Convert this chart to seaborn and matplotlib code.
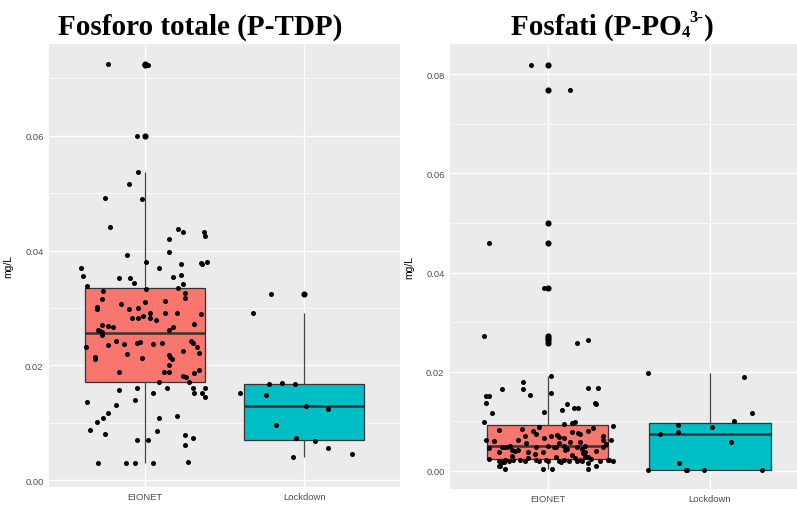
import matplotlib
matplotlib.use("Agg")
import numpy as np
import pandas as pd
import matplotlib.pyplot as plt
from matplotlib.ticker import MultipleLocator, FormatStrFormatter
import seaborn as sns

groups = ["EIONET", "Lockdown"]
palette = {"EIONET": "#F8766D", "Lockdown": "#00BFC4"}

# Total dissolved phosphorus, P-TDP (mg/L), and the horizontal jitter of each point
tdp_eionet = [
    0.0726, 0.0723, 0.0600,
    0.0537, 0.0516, 0.0491, 0.0490, 0.0442, 0.0437, 0.0433, 0.0433, 0.0426, 0.0420,
    0.0393, 0.0397, 0.0380, 0.0376, 0.0378, 0.0376, 0.0380, 0.0370, 0.0369, 0.0356,
    0.0352, 0.0352, 0.0343, 0.0354, 0.0358, 0.0342, 0.0335, 0.0338,
    0.0333, 0.0329, 0.0327, 0.0318, 0.0315, 0.0301, 0.0298, 0.0307, 0.0299, 0.0300,
    0.0311, 0.0313, 0.0292, 0.0287, 0.0291, 0.0292, 0.0290, 0.0282, 0.0282, 0.0282,
    0.0280, 0.0272, 0.0271, 0.0268, 0.0267, 0.0267, 0.0262, 0.0262, 0.0260, 0.0259, 0.0253,
    0.0233, 0.0236, 0.0242, 0.0238, 0.0239, 0.0241, 0.0238, 0.0239, 0.0226, 0.0242,
    0.0239, 0.0233, 0.0221, 0.0220, 0.0214, 0.0211, 0.0213, 0.0218, 0.0214, 0.0211,
    0.0200, 0.0189, 0.0189, 0.0188, 0.0192, 0.0187, 0.0182, 0.0180, 0.0172, 0.0172,
    0.0161, 0.0161, 0.0161, 0.0161, 0.0158, 0.0152, 0.0152, 0.0145, 0.0152, 0.0139,
    0.0136, 0.0132, 0.0117, 0.0109, 0.0101, 0.0088, 0.0109, 0.0112, 0.0081, 0.0085,
    0.0070, 0.0070, 0.0079, 0.0074, 0.0061, 0.0030, 0.0030, 0.0030, 0.0030, 0.0032,
]
tdp_eionet_jitter = [
    -0.23, 0.02, -0.05,
    -0.04, -0.10, -0.25, -0.02, -0.22, 0.21, 0.24, 0.37, 0.38, 0.15,
    -0.11, 0.15, 0.01, 0.23, 0.35, 0.36, 0.39, -0.40, 0.09, -0.39,
    -0.16, -0.09, -0.07, 0.18, 0.23, 0.24, 0.21, -0.36,
    0.01, -0.26, 0.25, 0.25, -0.27, -0.30, -0.30, -0.15, -0.10, -0.04,
    0.00, 0.13, 0.03, -0.01, 0.13, 0.20, 0.35, -0.08, -0.04, 0.03,
    0.07, 0.31, -0.27, -0.23, -0.20, 0.18, 0.15, -0.29, -0.28, -0.27, -0.27,
    -0.37, -0.23, -0.18, -0.13, -0.05, -0.03, 0.05, 0.11, 0.24, 0.29,
    0.30, 0.33, 0.34, -0.11, -0.31, -0.31, -0.02, 0.15, 0.16, 0.17,
    0.15, 0.12, 0.15, -0.16, 0.34, 0.31, 0.24, 0.26, 0.09, 0.28,
    -0.05, 0.14, 0.30, 0.38, -0.16, 0.31, 0.36, 0.38, 0.05, -0.06,
    -0.36, -0.18, -0.23, -0.26, -0.30, -0.34, 0.09, 0.20, -0.25, 0.08,
    -0.05, 0.02, 0.25, 0.30, 0.25, -0.29, -0.12, -0.06, 0.05, 0.27,
]
tdp_lockdown = [0.0325, 0.0291, 0.0152, 0.0149, 0.0167, 0.0170, 0.0168, 0.0130,
                0.0125, 0.0096, 0.0074, 0.0068, 0.0056, 0.0046, 0.0041]
tdp_lockdown_jitter = [-0.21, -0.32, -0.40, -0.24, -0.22, -0.14, -0.06, 0.01,
                       0.15, -0.18, -0.05, 0.07, 0.15, 0.30, -0.07]

# Phosphates, P-PO4 (mg/L), and the horizontal jitter of each point
po4_eionet = [
    0.0819, 0.0769, 0.0500, 0.0460, 0.0370, 0.0273, 0.0268, 0.0265, 0.0259,
    0.0191, 0.0179, 0.0165, 0.0165, 0.0154, 0.0157, 0.0167, 0.0167, 0.0151, 0.0151,
    0.0138, 0.0138, 0.0136, 0.0116, 0.0118, 0.0135, 0.0124, 0.0128, 0.0128, 0.0099,
    0.0097, 0.0098, 0.0095, 0.0091,
    0.0084, 0.0070, 0.0080, 0.0075, 0.0066, 0.0070, 0.0068, 0.0066, 0.0079, 0.0077,
    0.0075, 0.0080, 0.0070, 0.0063, 0.0063, 0.0060, 0.0051, 0.0049, 0.0049, 0.0048,
    0.0043, 0.0041, 0.0042, 0.0057, 0.0038, 0.0048, 0.0038, 0.0051, 0.0048, 0.0048,
    0.0056, 0.0051, 0.0059, 0.0043, 0.0048, 0.0044, 0.0051, 0.0036, 0.0038, 0.0058,
    0.0049, 0.0063, 0.0038,
    0.0088, 0.0086, 0.0082, 0.0072, 0.0062, 0.0055, 0.0046, 0.0045, 0.0040, 0.0035,
    0.0033, 0.0031, 0.0028, 0.0026,
    0.0024, 0.0021, 0.0019, 0.0019, 0.0022, 0.0020, 0.0010, 0.0010, 0.0005, 0.0022,
    0.0022, 0.0020, 0.0022, 0.0021, 0.0005, 0.0020, 0.0022, 0.0005, 0.0021, 0.0022,
    0.0020, 0.0027, 0.0021, 0.0022, 0.0020, 0.0029, 0.0029, 0.0029, 0.0016, 0.0005,
    0.0024, 0.0010, 0.0020, 0.0022, 0.0022, 0.0020, 0.0018,
]
po4_eionet_jitter = [
    -0.10, 0.14, 0.00, -0.36, -0.02, -0.39, 0.00, 0.25, 0.18,
    0.02, -0.15, -0.15, -0.28, -0.11, 0.02, 0.25, 0.31, -0.38, -0.36,
    -0.38, 0.29, 0.30, -0.34, -0.02, 0.12, 0.09, 0.16, 0.19, -0.39,
    0.15, 0.17, 0.10, 0.40,
    -0.16, -0.14, -0.09, -0.07, -0.02, 0.02, 0.07, 0.10, 0.15, 0.19,
    0.20, 0.25, 0.34, 0.34, -0.38, -0.33, -0.23, -0.25, -0.27, -0.28,
    -0.22, -0.20, -0.18, -0.13, -0.12, -0.07, -0.03, 0.00, 0.04, 0.05,
    0.07, 0.10, 0.14, 0.11, 0.18, 0.21, 0.23, 0.22, 0.23, 0.20,
    0.34, 0.39, -0.30,
    -0.05, 0.28, -0.30, 0.06, -0.18, 0.36, -0.36, 0.12, 0.30, -0.08,
    0.15, -0.22, 0.05, -0.12,
    -0.36, -0.30, -0.28, -0.27, -0.26, -0.24, -0.30, -0.29, -0.26, -0.21,
    -0.17, -0.14, -0.07, -0.05, -0.03, 0.00, -0.01, 0.03, 0.07, 0.10,
    0.13, 0.17, 0.18, 0.20, 0.21, 0.23, 0.24, 0.25, 0.25, 0.25,
    0.27, 0.30, 0.32, 0.37, 0.38, 0.40, 0.08,
]
po4_lockdown = [0.0197, 0.0189, 0.0116, 0.0100, 0.0088, 0.0093, 0.0075, 0.0078,
                0.0058, 0.0016, 0.0003, 0.0003, 0.0003, 0.0003, 0.0003]
po4_lockdown_jitter = [-0.38, 0.21, 0.26, 0.15, 0.01, -0.20, -0.31, -0.20,
                       0.13, -0.19, -0.38, -0.15, -0.14, -0.04, 0.32]


def make_frame(eionet, eionet_jit, lockdown, lockdown_jit):
    return pd.DataFrame({
        "group": ["EIONET"] * len(eionet) + ["Lockdown"] * len(lockdown),
        "value": list(eionet) + list(lockdown),
        "jitter": list(eionet_jit) + list(lockdown_jit),
    })


tdp = make_frame(tdp_eionet, tdp_eionet_jitter, tdp_lockdown, tdp_lockdown_jitter)
po4 = make_frame(po4_eionet, po4_eionet_jitter, po4_lockdown, po4_lockdown_jitter)

sns.set_theme(style="darkgrid", rc={
    "axes.facecolor": "#EBEBEB",
    "grid.color": "white",
    "axes.edgecolor": "#EBEBEB",
})
plt.rcParams["font.family"] = ["Liberation Sans", "DejaVu Sans"]

W, H = 797, 506
fig = plt.figure(figsize=(W / 100, H / 100), dpi=100)
fig.patch.set_facecolor("white")


def px_axes(x0, y0, x1, y1):
    return fig.add_axes([x0 / W, 1 - y1 / H, (x1 - x0) / W, (y1 - y0) / H])


ax1 = px_axes(49, 45, 400, 488)
ax2 = px_axes(450, 45, 797, 490)


def draw_panel(ax, df, ylim, xlim):
    sns.boxplot(
        data=df, x="group", y="value", hue="group", order=groups, hue_order=groups,
        palette=palette, saturation=1, width=0.75, linewidth=0.9, linecolor="#333333",
        showcaps=False, legend=False, ax=ax,
        flierprops=dict(marker="o", markerfacecolor="black", markeredgecolor="black",
                        markersize=3.4),
        medianprops=dict(color="#333333", linewidth=1.8),
        whiskerprops=dict(color="#444444", linewidth=0.9),
    )
    pos = df["group"].map({g: i for i, g in enumerate(groups)}).to_numpy() + df["jitter"].to_numpy()
    sns.scatterplot(x=pos, y=df["value"].to_numpy(), color="black", s=13,
                    linewidth=0, ax=ax, zorder=4)
    ax.set_xlim(*xlim)
    ax.set_ylim(*ylim)
    ax.set_xticks([0, 1], groups)
    ax.yaxis.set_major_locator(MultipleLocator(0.02))
    ax.yaxis.set_minor_locator(MultipleLocator(0.01))
    ax.yaxis.set_major_formatter(FormatStrFormatter("%.2f"))
    ax.grid(which="major", color="white", linewidth=1.0)
    ax.grid(which="minor", axis="y", color="white", linewidth=0.5)
    ax.set_axisbelow(True)
    for s in ax.spines.values():
        s.set_visible(False)
    ax.tick_params(which="major", length=2.3, width=0.7, color="#333333",
                   labelsize=6.8, labelcolor="#4D4D4D", pad=1.6)
    ax.tick_params(which="minor", length=0)
    ax.set_xlabel("")
    ax.set_ylabel("mg/L", fontsize=7.5, color="black")


draw_panel(ax1, tdp, (-0.00117, 0.0760), (-0.6, 1.6))
draw_panel(ax2, po4, (-0.00363, 0.0861), (-0.6, 1.535))
ax1.yaxis.set_label_coords((13 - 49) / 351, 0.5)
ax2.yaxis.set_label_coords((414 - 450) / 347, 0.5)

# Titles
title_font = dict(family=["Liberation Serif", "DejaVu Serif"], weight="bold", color="black")
TSIZE = 21
baseline = 1 - 35 / H
fig.text(200 / W, baseline, "Fosforo totale (P-TDP)", fontsize=TSIZE,
         ha="center", va="baseline", **title_font)

renderer = fig.canvas.get_renderer()
parts = [
    ("Fosfati (P-PO", TSIZE, 0),
    ("4", 12, -2),
    ("3-", 12, 13),
    (")", TSIZE, 0),
]
texts = []
widths = []
for s, size, dy in parts:
    t = fig.text(0, baseline + dy / H, s, fontsize=size, ha="left", va="baseline", **title_font)
    texts.append(t)
    widths.append(t.get_window_extent(renderer).width)
total = sum(widths)
x = 612 - total / 2
for t, w in zip(texts, widths):
    t.set_x(x / W)
    x += w

fig.savefig("out.png", dpi=100, facecolor="white")
